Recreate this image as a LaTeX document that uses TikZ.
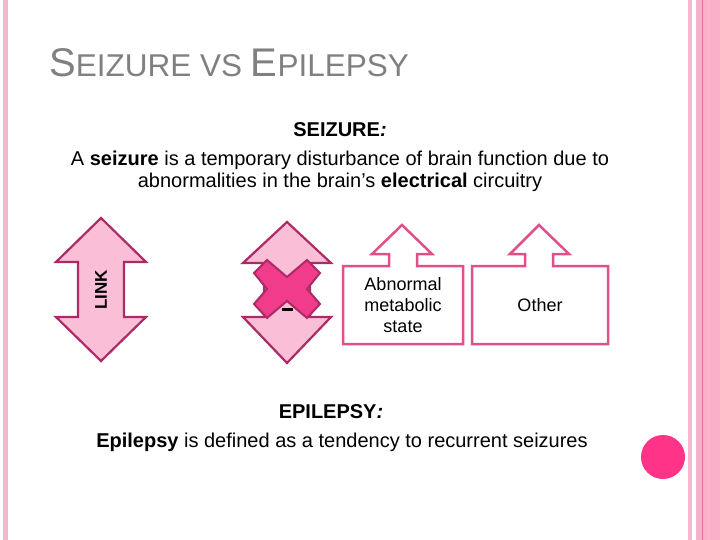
\documentclass[tikz,border=0pt]{standalone}
\usepackage{fontspec}
\setmainfont{Liberation Sans}
\definecolor{stripA}{RGB}{249,182,206}
\definecolor{stripB}{RGB}{251,176,202}
\definecolor{stripLine}{RGB}{222,110,160}
\definecolor{dotPink}{RGB}{255,51,136}
\definecolor{titleGray}{RGB}{128,128,128}
\definecolor{arrFill}{RGB}{250,190,215}
\definecolor{arrLine}{RGB}{172,42,102}
\definecolor{xFill}{RGB}{240,60,138}
\definecolor{boxLine}{RGB}{226,80,140}
\tikzset{
  txt/.style={inner sep=0pt, font=\fontsize{20}{22}\selectfont, anchor=base},
  boxtxt/.style={inner sep=0pt, font=\fontsize{18}{21}\selectfont, anchor=base},
  dblarrow/.style={fill=arrFill, draw=arrLine, line width=2.2pt, line join=miter},
  upbox/.style={fill=white, draw=boxLine, line width=2.5pt, line join=miter},
  crossmark/.style={fill=xFill, draw=arrLine, line width=2pt, line join=miter}
}
\begin{document}
\begin{tikzpicture}[x=1pt,y=-1pt]
\useasboundingbox (0,0) rectangle (720,540);
\fill[white] (0,0) rectangle (720,540);
% side strips
\fill[stripA] (3,0) rectangle (8,540);
\fill[stripA] (688,0) rectangle (692,540);
\fill[stripB] (696,0) rectangle (720,540);
\draw[stripLine, line width=0.8pt] (702,0) -- (702,540);
\fill[stripA!80!stripB] (707,0) rectangle (710,540);
\fill[dotPink] (663,457) circle (22);
% title
\node[inner sep=0pt, anchor=base west, text=titleGray] (title) at (49,77)
  {\fontsize{40}{44}\selectfont S\fontsize{31.5}{36}\selectfont EIZURE VS \fontsize{40}{44}\selectfont E\fontsize{31.5}{36}\selectfont PILEPSY};
% seizure text
\node[txt] (sztitle) at (340,137) {\textbf{SEIZURE\textit{:}}};
\node[txt] (sz1) at (340,166) {A \textbf{seizure} is a temporary disturbance of brain function due to};
\node[txt] (sz2) at (340,188) {abnormalities in the brain’s \textbf{electrical} circuitry};
% double arrow LINK
\draw[dblarrow] (101,218) -- (146,262) -- (124,262) -- (124,317) -- (146,317) -- (101,361)
  -- (56,317) -- (78,317) -- (78,262) -- (56,262) -- cycle;
\node[inner sep=0pt, rotate=90, font=\fontsize{17}{20}\selectfont\bfseries] (link) at (101,290) {LINK};
% crossed double arrow
\draw[dblarrow] (287,222) -- (331,263) -- (310,263) -- (310,317) -- (331,317) -- (287,363)
  -- (243,317) -- (264,317) -- (264,263) -- (243,263) -- cycle;
\draw[black, line width=2.6pt] (282,309.5) -- (293,309.5);
\draw[crossmark] (287,277) -- (307,260) -- (320,273) -- (307,289) -- (320,304) -- (307,318)
  -- (287,301) -- (267,318) -- (254,304) -- (267,289) -- (254,273) -- (267,260) -- cycle;
% boxes with up arrows
\draw[upbox] (343,266) -- (389,266) -- (389,254) -- (372,254) -- (402,225) -- (432,254)
  -- (417,254) -- (417,266) -- (463,266) -- (463,344) -- (343,344) -- cycle;
\node[boxtxt] (abn1) at (403,290) {Abnormal};
\node[boxtxt] (abn2) at (403,311) {metabolic};
\node[boxtxt] (abn3) at (403,332) {state};
\draw[upbox] (472,266) -- (525,266) -- (525,254) -- (510,254) -- (539,225) -- (569,254)
  -- (553,254) -- (553,266) -- (608,266) -- (608,344) -- (472,344) -- cycle;
\node[boxtxt] (oth) at (540,311) {Other};
% epilepsy text
\node[txt] (eptitle) at (331,418) {\textbf{EPILEPSY\textit{:}}};
\node[txt] (ep1) at (342,447) {\textbf{Epilepsy} is defined as a tendency to recurrent seizures};
\end{tikzpicture}
\end{document}
